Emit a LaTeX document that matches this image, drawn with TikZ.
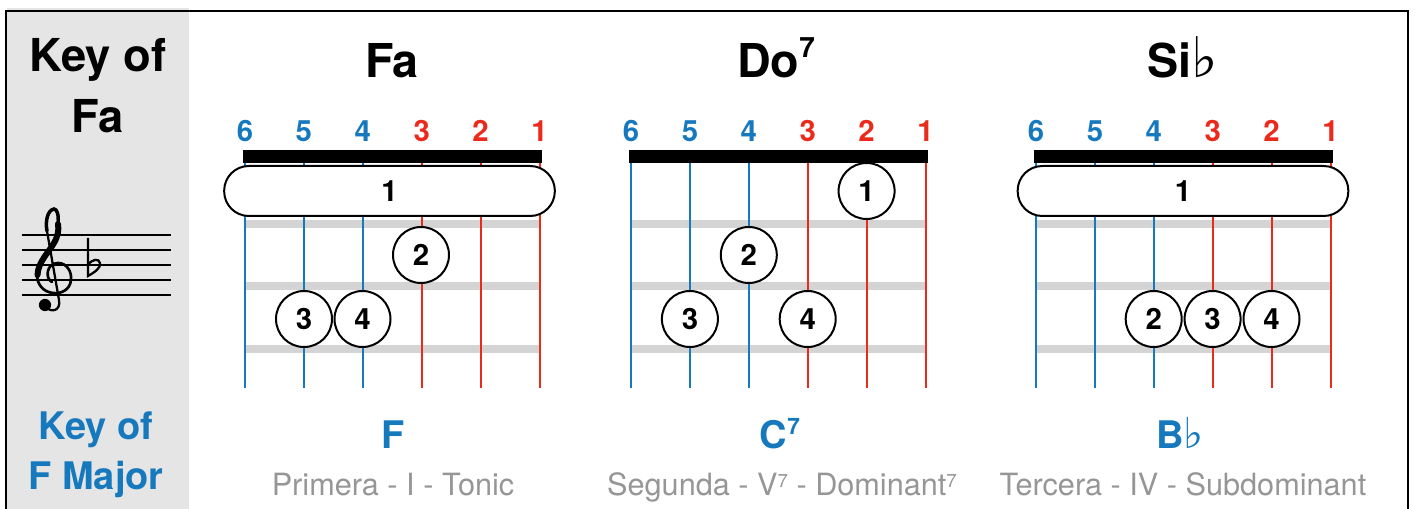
\documentclass[tikz,border=0pt]{standalone}
\usepackage{fontspec}
\setmainfont{TeX Gyre Heros}
\newfontfamily\symfont{DejaVu Sans}

\definecolor{strblue}{RGB}{22,121,190}
\definecolor{strred}{RGB}{236,42,28}
\definecolor{fretgray}{RGB}{212,212,212}
\definecolor{panelgray}{RGB}{229,229,229}
\definecolor{subgray}{RGB}{150,150,150}

\newcommand{\titlesize}{\fontsize{35}{40}\selectfont\bfseries}
\newcommand{\numsize}{\fontsize{22}{26}\selectfont\bfseries}
\newcommand{\namesize}{\fontsize{28.5}{32}\selectfont\bfseries}
\newcommand{\subsize}{\fontsize{23}{27}\selectfont}
% flat sign, #1 = size in pt
\newcommand{\flatsign}[1]{{\symfont\mdseries\fontsize{#1}{#1}\selectfont ♭}}
% raised seven, #1 = size, #2 = raise
\newcommand{\sevenup}[2]{\raisebox{#2}{\fontsize{#1}{#1}\selectfont 7}}

\tikzset{every picture/.style={line width=0.75pt}}
\tikzset{
  fretline/.style={line width=5.5pt, fretgray},
  stringline/.style={line width=1.5pt},
  strnum/.style={inner sep=0pt, anchor=base, font=\numsize},
  finger/.style={circle, draw, line width=1.5pt, fill=white, minimum size=42pt, inner sep=0pt, font=\numsize},
  barre/.style={draw, line width=1.5pt, fill=white, rounded corners=18.5pt, minimum width=248pt, minimum height=37.5pt, inner sep=0pt, font=\numsize},
  chordtitle/.style={inner sep=0pt, anchor=base, font=\titlesize},
  chordname/.style={inner sep=0pt, anchor=base, text=strblue, font=\namesize},
  chordsub/.style={inner sep=0pt, anchor=base, text=subgray, font=\subsize},
}

% #1 = x of string 6, #2 = prefix of the node names
\newcommand{\fretboard}[2]{%
  \foreach \fy in {224,286,349}
    \draw[fretline] (#1,\fy) -- (#1+294.5,\fy);
  \foreach \s in {6,...,1}{
    \pgfmathsetmacro{\sx}{#1+(6-\s)*58.9}
    \ifnum\s>3 \def\scol{strblue}\else\def\scol{strred}\fi
    \draw[stringline, \scol] (\sx,157) -- (\sx,388);
    \node[strnum, text=\scol] (#2s\s) at (\sx,142) {\s};
  }
  \fill (#1-2,150) rectangle (#1+296.5,163);
}

\begin{document}
\begin{tikzpicture}[x=0.75pt,y=0.75pt,yscale=-1,xscale=1]
\useasboundingbox (0,0) rectangle (1415,509);

%Shape: Key panel
\fill[panelgray] (7,8) rectangle (189,509);
%Shape: Frame
\draw[line width=2pt] (6,509) -- (6,11) -- (1408,11) -- (1408,509);

%Text: Key of Fa
\node[chordtitle, font=\fontsize{34}{40}\selectfont\bfseries] (keytop) at (98,72) {Key of};
\node[chordtitle, font=\fontsize{34}{40}\selectfont\bfseries] (keyfa) at (98,133) {Fa};
%Text: Key of F Major
\node[chordname] (keybot) at (96,440) {Key of};
\node[chordname] (keyfmaj) at (96,490) {F Major};

%Shape: Staff
\foreach \ly in {235,250,265,280,295}
  \draw[line width=1pt] (22,\ly) -- (171,\ly);
%Shape: Treble clef
\draw[line width=2pt, line cap=round] (52,282) .. controls (45,279) and (46,263) .. (58,263) .. controls (67,263) and (72,272) .. (71,280) .. controls (70,290) and (61,294) .. (53,293) .. controls (43,292) and (37,284) .. (37,275);
\draw[line width=4.5pt, line cap=round] (37.5,275) .. controls (38,262) and (49,252) .. (54,243) .. controls (58,236) and (59,230) .. (58,224);
\draw[line width=2.6pt, line cap=round] (58,224) .. controls (59,215) and (57,209) .. (54,209) .. controls (48,210) and (45,220) .. (47,231);
\draw[line width=1.7pt, line cap=round] (47,231) -- (59,300) .. controls (61,311) and (51,313) .. (46,307);
\fill (45,305) circle (4.6pt);
%Shape: Key signature flat
\draw[line width=1.7pt] (88,238) -- (88,276) .. controls (95,272) and (101,268) .. (100,263) .. controls (99,258) and (92,259) .. (88,265);

%Chord: Fa
\fretboard{245}{fa}
\node[barre] (fa1) at (389.5,191) {1};
\node[finger] (fa2) at (421,255) {2};
\node[finger] (fa3) at (304,319) {3};
\node[finger] (fa4) at (362.5,319) {4};
\node[chordtitle] (fatitle) at (392,78) {Fa};
\node[chordname] (faname) at (393,449) {F};
\node[chordsub] (fasub) at (393,496) {Primera - I - Tonic};

%Chord: Do7
\fretboard{631}{do}
\node[finger] (do1) at (866.6,191) {1};
\node[finger] (do2) at (748.8,255) {2};
\node[finger] (do3) at (689.9,319) {3};
\node[finger] (do4) at (807.7,319) {4};
\node[chordtitle] (dotitle) at (776,78) {Do\sevenup{21}{15pt}};
\node[chordname] (doname) at (780,449) {C\sevenup{17}{11pt}};
\node[chordsub] (dosub) at (782,496) {Segunda - V\sevenup{14}{6pt} - Dominant\sevenup{14}{6pt}};

%Chord: Sib
\fretboard{1036}{si}
\node[barre] (si1) at (1183,191) {1};
\node[finger] (si2) at (1153.7,319) {2};
\node[finger] (si3) at (1212.6,319) {3};
\node[finger] (si4) at (1271.5,319) {4};
\node[chordtitle] (sititle) at (1183,78) {Si\flatsign{42}};
\node[chordname] (siname) at (1180,449) {B\flatsign{32}};
\node[chordsub] (sisub) at (1183,496) {Tercera - IV - Subdominant};
\end{tikzpicture}
\end{document}
